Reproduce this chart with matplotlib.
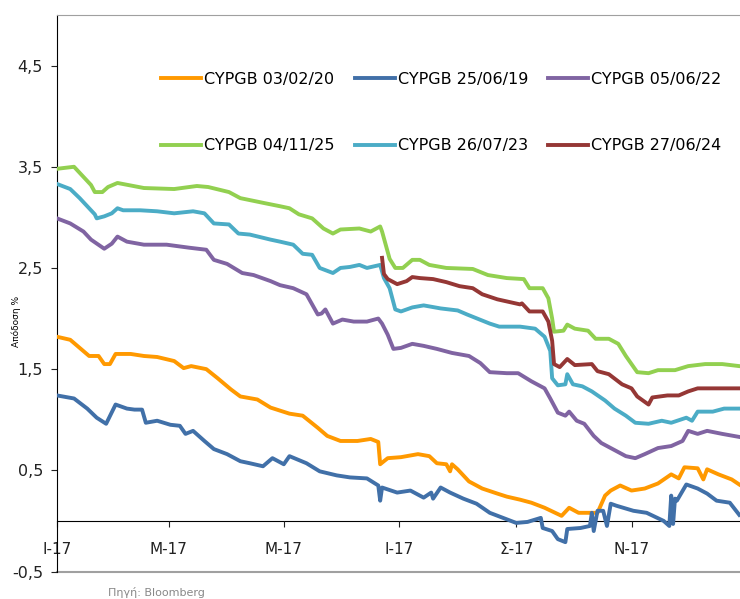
import numpy as np
import pandas as pd
import matplotlib
matplotlib.use('Agg')
import matplotlib.pyplot as plt

# Ημέρες από 1/1/2017 και αποδόσεις (%) ανά ομόλογο
green_days = [0, 9, 18, 20, 24, 27, 32, 46, 62, 74, 80, 91, 97, 110, 118, 123, 128, 135, 141, 146, 150, 160,
              166, 171, 172, 176, 179, 183, 188, 192, 197, 206, 220, 228, 238, 247, 250, 257, 260, 262, 263,
              268, 270, 274, 281, 285, 292, 297, 301, 304, 307, 313, 318, 327, 334, 343, 352, 361]
green_vals = [3.48, 3.50, 3.32, 3.25, 3.25, 3.30, 3.34, 3.29, 3.28, 3.31, 3.30, 3.25, 3.19, 3.14, 3.11, 3.09,
              3.03, 2.99, 2.89, 2.84, 2.88, 2.89, 2.86, 2.91, 2.86, 2.59, 2.50, 2.50, 2.58, 2.58, 2.53, 2.50,
              2.49, 2.43, 2.40, 2.39, 2.30, 2.30, 2.20, 2.00, 1.87, 1.88, 1.94, 1.90, 1.88, 1.80, 1.80, 1.75,
              1.63, 1.55, 1.47, 1.46, 1.49, 1.49, 1.53, 1.55, 1.55, 1.53]

aqua_days = [0, 7, 12, 20, 21, 25, 29, 32, 35, 44, 53, 62, 72, 78, 83, 91, 96, 102, 113, 118, 125, 130, 135,
             139, 146, 150, 155, 160, 164, 171, 173, 176, 179, 182, 188, 194, 203, 212, 217, 229, 234, 245,
             253, 258, 261, 262, 265, 269, 270, 273, 278, 283, 290, 295, 301, 306, 313, 320, 325, 333, 336,
             339, 347, 353, 361]
aqua_vals = [3.33, 3.28, 3.19, 3.03, 2.99, 3.01, 3.04, 3.09, 3.07, 3.07, 3.06, 3.04, 3.06, 3.04, 2.94, 2.93,
             2.84, 2.83, 2.78, 2.76, 2.73, 2.64, 2.63, 2.50, 2.45, 2.50, 2.51, 2.53, 2.50, 2.53, 2.40, 2.30,
             2.09, 2.07, 2.11, 2.13, 2.10, 2.08, 2.04, 1.95, 1.92, 1.92, 1.90, 1.82, 1.68, 1.41, 1.34, 1.35,
             1.45, 1.35, 1.33, 1.28, 1.19, 1.11, 1.04, 0.97, 0.96, 0.99, 0.97, 1.02, 0.99, 1.08, 1.08, 1.11,
             1.11]

red_days = [172, 173, 175, 180, 185, 188, 192, 199, 206, 213, 220, 225, 233, 245, 246, 250, 257, 260, 262,
            263, 266, 270, 274, 283, 286, 292, 299, 304, 307, 313, 315, 323, 329, 334, 339, 352, 361]
red_vals = [2.60, 2.44, 2.39, 2.34, 2.37, 2.41, 2.40, 2.39, 2.36, 2.32, 2.30, 2.24, 2.19, 2.14, 2.15, 2.07,
            2.07, 1.97, 1.78, 1.55, 1.52, 1.60, 1.54, 1.55, 1.48, 1.45, 1.35, 1.31, 1.23, 1.15, 1.22, 1.24,
            1.24, 1.28, 1.31, 1.31, 1.31]

purple_days = [0, 7, 14, 18, 25, 29, 32, 37, 46, 58, 70, 79, 83, 90, 98, 104, 113, 118, 125, 132, 135, 138,
               140, 142, 146, 151, 157, 164, 170, 172, 175, 178, 182, 188, 194, 201, 209, 218, 224, 229, 238,
               244, 251, 258, 261, 265, 269, 271, 275, 279, 284, 288, 294, 301, 306, 311, 318, 325, 331, 334,
               339, 344, 352, 361]
purple_vals = [2.99, 2.94, 2.86, 2.78, 2.69, 2.74, 2.81, 2.76, 2.73, 2.73, 2.70, 2.68, 2.58, 2.54, 2.45, 2.43,
               2.37, 2.33, 2.30, 2.24, 2.14, 2.04, 2.05, 2.09, 1.95, 1.99, 1.97, 1.97, 2.00, 1.95, 1.84, 1.70,
               1.71, 1.75, 1.73, 1.70, 1.66, 1.63, 1.56, 1.47, 1.46, 1.46, 1.38, 1.31, 1.21, 1.07, 1.04, 1.08,
               0.99, 0.96, 0.84, 0.77, 0.71, 0.64, 0.62, 0.66, 0.72, 0.74, 0.79, 0.89, 0.86, 0.89, 0.86, 0.83]

orange_days = [0, 7, 12, 17, 22, 25, 28, 31, 39, 46, 53, 62, 67, 71, 79, 85, 92, 97, 106, 113, 123, 130, 138,
               143, 150, 159, 166, 170, 171, 175, 182, 191, 197, 201, 206, 208, 209, 212, 218, 225, 233, 238,
               245, 251, 258, 267, 271, 276, 283, 286, 290, 293, 298, 304, 311, 318, 325, 329, 332, 339, 342,
               344, 350, 357, 361]
orange_vals = [1.82, 1.79, 1.71, 1.63, 1.63, 1.55, 1.55, 1.65, 1.65, 1.63, 1.62, 1.58, 1.51, 1.53, 1.50, 1.41,
               1.30, 1.23, 1.20, 1.12, 1.06, 1.04, 0.92, 0.84, 0.79, 0.79, 0.81, 0.78, 0.56, 0.62, 0.63, 0.66,
               0.64, 0.57, 0.56, 0.49, 0.56, 0.51, 0.39, 0.32, 0.27, 0.24, 0.21, 0.18, 0.13, 0.05, 0.13, 0.08,
               0.08, 0.08, 0.25, 0.30, 0.35, 0.30, 0.32, 0.37, 0.46, 0.42, 0.53, 0.52, 0.41, 0.51, 0.46, 0.41,
               0.36]

blue_days = [0, 9, 16, 21, 26, 31, 37, 41, 45, 47, 53, 60, 65, 68, 72, 78, 83, 90, 97, 102, 109, 114, 120,
             123, 132, 139, 148, 155, 164, 170, 171, 172, 180, 187, 194, 198, 199, 203, 208, 215, 222, 229,
             236, 243, 249, 256, 257, 262, 265, 269, 270, 277, 282, 283, 284, 286, 289, 291, 293, 296, 305,
             312, 321, 324, 325, 326, 327, 328, 333, 339, 344, 349, 356, 361]
blue_vals = [1.24, 1.21, 1.11, 1.02, 0.96, 1.15, 1.11, 1.10, 1.10, 0.97, 0.99, 0.95, 0.94, 0.86, 0.89, 0.79,
             0.71, 0.66, 0.59, 0.57, 0.54, 0.62, 0.56, 0.64, 0.57, 0.49, 0.45, 0.43, 0.42, 0.35, 0.20, 0.33,
             0.28, 0.30, 0.23, 0.28, 0.22, 0.33, 0.28, 0.22, 0.17, 0.08, 0.03, -0.02, -0.01, 0.03, -0.07,
             -0.10, -0.18, -0.21, -0.08, -0.07, -0.05, 0.08, -0.10, 0.10, 0.10, -0.05, 0.17, 0.15, 0.10,
             0.08, 0.00, -0.05, 0.25, -0.03, 0.22, 0.20, 0.36, 0.32, 0.27, 0.20, 0.18, 0.06]

start = pd.Timestamp('2017-01-01')
month_ticks = ['2017-01-01', '2017-03-01', '2017-05-01', '2017-07-01', '2017-09-01', '2017-11-01']
month_labels = ['Ι-17', 'Μ-17', 'Μ-17', 'Ι-17', 'Σ-17', 'Ν-17']
ytick_vals = [-0.5, 0.5, 1.5, 2.5, 3.5, 4.5]
ytick_labels = ['-0,5', '0,5', '1,5', '2,5', '3,5', '4,5']

series = [
    ('CYPGB 03/02/20', orange_days, orange_vals, '#FF9900'),
    ('CYPGB 25/06/19', blue_days, blue_vals, '#4170A8'),
    ('CYPGB 05/06/22', purple_days, purple_vals, '#8064A2'),
    ('CYPGB 04/11/25', green_days, green_vals, '#92D050'),
    ('CYPGB 26/07/23', aqua_days, aqua_vals, '#4BACC6'),
    ('CYPGB 27/06/24', red_days, red_vals, '#953735'),
]


def to_dates(days):
    return start + pd.to_timedelta(days, unit='D')


fig = plt.figure(figsize=(7.40, 5.99), dpi=100)
ax = fig.add_axes([57 / 740, 1 - 571.5 / 599, 1 - 57 / 740, (571.5 - 15) / 599])

lines = {}
for name, d, v, c in series:
    ln, = ax.plot(to_dates(d), v, color=c, lw=2.8, label=name, zorder=3)
    lines[name] = ln

ax.set_ylim(-0.5, 5)
ax.set_xlim(start, start + pd.Timedelta(days=361.4))

ax.set_yticks(ytick_vals)
ax.set_yticklabels(ytick_labels)
ax.set_xticks(pd.to_datetime(month_ticks))
ax.set_xticklabels(month_labels)

ax.spines['right'].set_visible(False)
ax.spines['top'].set_color('#A0A0A0')
ax.spines['left'].set_color('black')
ax.spines['bottom'].set_position(('data', 0))
ax.spines['bottom'].set_color('black')
ax.spines['bottom'].set_zorder(1)
ax.axhline(-0.5, color='#A0A0A0', lw=1.5, clip_on=False, zorder=1)

ax.tick_params(axis='y', direction='out', length=4, pad=6, labelsize=11.5, colors='#222222')
ax.tick_params(axis='x', direction='out', length=4, pad=11, labelsize=11, colors='#222222')

ax.set_ylabel('Απόδοση %', fontsize=6.5, labelpad=10)
ax.yaxis.set_label_coords(-0.053, 0.45)

order = ['CYPGB 03/02/20', 'CYPGB 04/11/25', 'CYPGB 25/06/19', 'CYPGB 26/07/23',
         'CYPGB 05/06/22', 'CYPGB 27/06/24']
fig.legend([lines[n] for n in order], order, loc='upper left',
           bbox_to_anchor=(161 / 740, 1 - 72 / 599), ncol=3, frameon=False,
           fontsize=11.5, handlelength=2.5, handletextpad=0.2, columnspacing=1.25,
           labelspacing=3.2, borderpad=0, borderaxespad=0)

fig.text(108 / 740, 1 - 598 / 599, 'Πηγή: Bloomberg', fontsize=8, color='#888888', va='bottom')

fig.savefig('out.png', dpi=100)
